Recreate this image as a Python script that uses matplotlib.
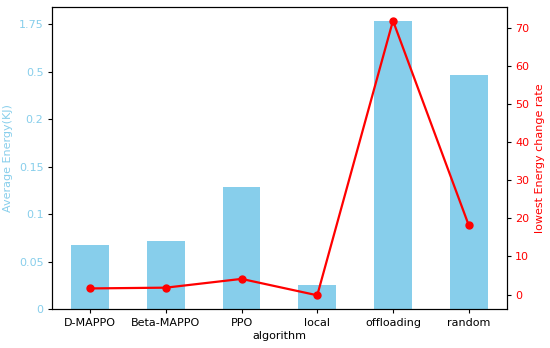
import matplotlib
matplotlib.use('Agg')
import matplotlib.pyplot as plt
import numpy as np

# Data
algorithms = ['D-MAPPO', 'Beta-MAPPO', 'PPO', 'local', 'offloading', 'random']
# bar heights on the (relabelled) left axis
avg_energy = [0.0672, 0.0720, 0.129, 0.025, 0.3033, 0.2472]
# lowest energy change rate (right axis)
change_rate = [1.6, 1.8, 4.1, -0.2, 71.8, 18.2]
left_ticks = [0, 0.05, 0.1, 0.15, 0.2, 0.25, 0.3]
left_labels = ['0', '0.05', '0.1', '0.15', '0.2', '0.5', '1.75']

plt.rcParams['font.size'] = 8
plt.rcParams['xtick.major.size'] = 2.8
plt.rcParams['ytick.major.size'] = 2.8
plt.rcParams['axes.linewidth'] = 0.8

fig, ax1 = plt.subplots(figsize=(5.5, 3.48), dpi=100)
fig.subplots_adjust(left=0.095, right=0.921, bottom=0.112, top=0.98)

x = np.arange(len(algorithms))
ax1.bar(x, avg_energy, width=0.5, color='skyblue')
ax1.set_xlim(-0.5, len(algorithms) - 0.5)
ax1.set_xticks(x)
ax1.set_xticklabels(algorithms)
ax1.set_xlabel('algorithm', labelpad=2)
ax1.set_ylabel('Average Energy(KJ)', color='skyblue')
ax1.set_yticks(left_ticks)
ax1.set_yticklabels(left_labels)
ax1.tick_params(axis='y', labelcolor='skyblue')

ax2 = ax1.twinx()
ax2.plot(x, change_rate, color='red', marker='o', linewidth=1.6, markersize=5)
ax2.set_ylabel('lowest Energy change rate', color='red')
ax2.tick_params(axis='y', labelcolor='red')

plt.savefig('out.png')
